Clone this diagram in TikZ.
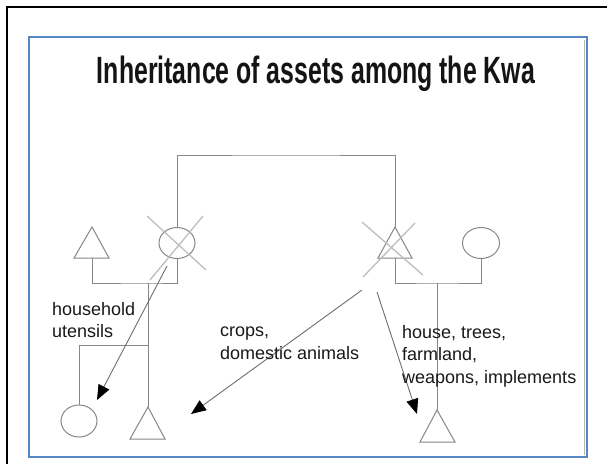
\documentclass[tikz,border=0pt]{standalone}
\usepackage{fontspec}
\usepackage{graphicx}
\setmainfont{Liberation Sans}
\usetikzlibrary{arrows.meta,shapes.geometric}
\definecolor{pedgray}{RGB}{135,135,135}
\definecolor{crossgray}{RGB}{190,190,190}
\definecolor{arrowgray}{RGB}{110,110,110}
\definecolor{frameblue}{RGB}{85,135,195}
\tikzset{
  ped/.style={draw=pedgray, line width=1pt},
  pedoval/.style={ellipse, draw=pedgray, line width=1pt, minimum width=36pt, minimum height=31pt, inner sep=0pt},
  crossline/.style={draw=crossgray, line width=1.3pt},
  giftarrow/.style={draw=arrowgray, line width=0.9pt, -{Triangle[length=15pt,width=12pt,color=black]}},
  giftlabel/.style={font=\fontsize{18}{22.5}\selectfont, align=left, anchor=north west, inner sep=0pt, text=black!90}
}
\begin{document}
\begin{tikzpicture}[x=1pt,y=-1pt]
\useasboundingbox (0,0) rectangle (607,464);
\fill[white] (0,0) rectangle (607,464);
% outer black border (left and top visible)
\draw[black, line width=2pt] (7,464) -- (7,7) -- (607,7);
% slide frame
\draw[pedgray!60, line width=1pt] (584,40) -- (584,455);
\draw[frameblue, line width=1.6pt] (29,37) rectangle (587,457);
% title
\node (title) at (316,83) [anchor=base, inner sep=0pt, font=\fontsize{38}{44}\selectfont\bfseries, text=black!92]
  {\resizebox{438pt}{\height}{Inheritance of assets among the Kwa}};

% left couple
\node[pedoval] (mother) at (177,243) {};
\draw[crossline] (147,216) -- (206,270);
\draw[crossline] (203,216) -- (150,280);
\coordinate (broApex) at (92,227);
\coordinate (broBase) at (92,258);
\draw[ped] (broApex) -- (109,258) -- (74,258) -- cycle;

% right couple
\coordinate (husApex) at (395,227);
\coordinate (husBase) at (395,258);
\draw[ped] (husApex) -- (412,258) -- (378,258) -- cycle;
\draw[crossline] (362,222) -- (423,275);
\draw[crossline] (415,223) -- (363,277);
\node[pedoval, minimum width=37pt] (sister) at (481,243) {};

% marriage link
\coordinate (bar) at (286,155);
\draw[ped] (mother.north) |- (bar) -| (husApex);

% left sibling group and children
\coordinate (sibL) at (148,283);
\draw[ped] (broBase) |- (sibL) -| (mother.south);
\coordinate (sonApex) at (148,407);
\draw[ped] (sonApex) -- (165,439) -- (130,439) -- cycle;
\draw[ped] (sibL) -- (sonApex);
\node[pedoval, minimum height=32pt] (daughter) at (79,421) {};
\coordinate (dj) at (148,345);
\draw[ped] (dj) -| (daughter.north);

% right sibling group and child
\coordinate (sibR) at (437,283);
\draw[ped] (husBase) |- (sibR) -| (sister.south);
\coordinate (nephApex) at (437,410);
\draw[ped] (nephApex) -- (455,442) -- (420,442) -- cycle;
\draw[ped] (sibR) -- (nephApex);

% inheritance arrows
\coordinate (g1s) at (167,266);
\coordinate (g1e) at (97,400);
\coordinate (g2s) at (362,290);
\coordinate (g2e) at (191,414);
\coordinate (g3s) at (377,292);
\coordinate (g3e) at (417,414);
\draw[giftarrow] (g1s) -- (g1e);
\draw[giftarrow] (g2s) -- (g2e);
\draw[giftarrow] (g3s) -- (g3e);

% labels
\node[giftlabel] (lab1) at (52,302) {household\\utensils};
\node[giftlabel] (lab2) at (220,327) {crops,\\domestic animals};
\node[giftlabel] (lab3) at (402,325) {house, trees,\\farmland,\\weapons, implements};
\end{tikzpicture}
\end{document}
